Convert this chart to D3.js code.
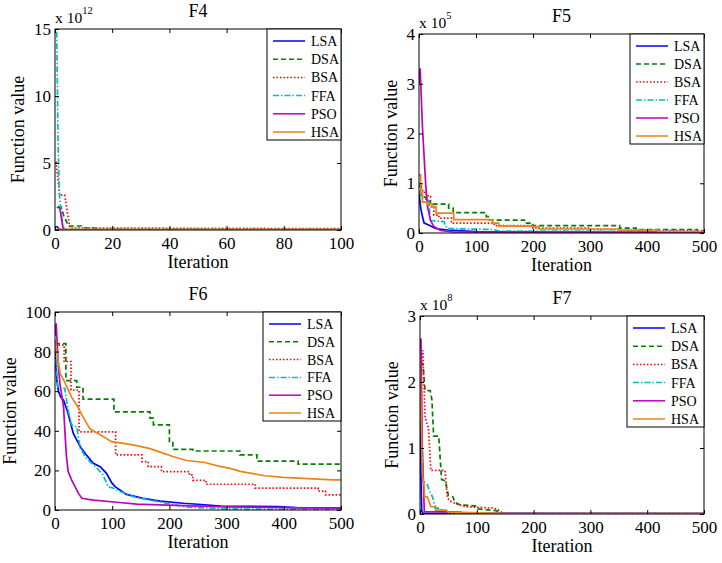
<!DOCTYPE html>
<html><head><meta charset="utf-8">
<script src="https://cdn.jsdelivr.net/npm/d3@7"></script>
<style>
body{margin:0;background:#fff}
svg{display:block}
</style>
</head><body>
<svg id="chart" width="722" height="563"></svg>
<script>
// ---------------- data ----------------
const seriesNames = ["LSA","DSA","BSA","FFA","PSO","HSA"];

// F4 (values in units of 10^12)
const F4_title = "F4", F4_exponent = 12;
const F4_xTicks = [0,20,40,60,80,100];
const F4_yTicks = [0,5,10,15];
const F4_LSA = [[0.5,0.3],[1.5,0.05],[3,0.02],[100,0.02]];
const F4_DSA = [[1,1.74],[2.2,1.7],[3,1.1],[4.7,0.3],[9.3,0.3],[9.8,0.15],[14,0.15],[14.5,0.05],[100,0.05]];
const F4_BSA = [[0.4,5.1],[1.6,2.6],[3.4,2.6],[5.2,0.15],[100,0.1]];
const F4_FFA = [[0.6,14.8],[1.1,6],[1.6,2.5],[2.6,0.3],[3.5,0.05],[100,0.03]];
const F4_PSO = [[0.6,1.7],[1.7,1.65],[2.9,0.02],[100,0.02]];
const F4_HSA = [[0,0.05],[100,0.04]];

// F5 (values in units of 10^5)
const F5_title = "F5", F5_exponent = 5;
const F5_xTicks = [0,100,200,300,400,500];
const F5_yTicks = [0,1,2,3,4];
const F5_LSA = [[0,0.8],[3,0.5],[6,0.33],[9,0.2],[17,0.16],[29,0.09],[50,0.06],[100,0.03],[200,0.02],[500,0.015]];
const F5_DSA = [[0,0.95],[4,0.72],[12,0.63],[20,0.58],[52,0.5],[60,0.41],[118,0.33],[124,0.26],[185,0.2],[200,0.15],[352,0.1],[381,0.07],[488,0.04],[500,0.04]];
const F5_BSA = [[0,0.93],[4,0.85],[10,0.78],[16,0.73],[20,0.53],[26,0.36],[35,0.3],[57,0.2],[132,0.15],[200,0.1],[300,0.07],[350,0.05],[500,0.05]];
const F5_FFA = [[0,0.85],[5,0.7],[12,0.68],[17,0.65],[20,0.25],[44,0.23],[46,0.16],[50,0.09],[130,0.07],[140,0.04],[500,0.03]];
const F5_PSO = [[0,3.0],[2,3.31],[6,2.14],[9,1.53],[12,0.93],[15,0.53],[20,0.26],[26,0.13],[38,0.05],[60,0.02],[500,0.01]];
const F5_HSA = [[0,1.17],[3,0.8],[6,0.62],[15,0.58],[23,0.53],[30,0.4],[58,0.4],[61,0.27],[125,0.26],[129,0.2],[140,0.14],[200,0.13],[210,0.08],[345,0.08],[350,0.06],[415,0.06],[420,0.03],[500,0.03]];

// F6 (raw values)
const F6_title = "F6", F6_exponent = 0;
const F6_xTicks = [0,100,200,300,400,500];
const F6_yTicks = [0,20,40,60,80,100];
const F6_LSA = [[0,81],[3,66],[6,60],[10,57],[15,55.5],[22,49.6],[32,38.7],[44,32],[55,27.8],[67,23.6],[79,21.9],[90,18.5],[99,13.8],[105,11.8],[125,7.9],[154,5.9],[184,4.5],[224,3.4],[250,2.9],[290,2.0],[390,1.7],[420,1.2],[500,1.0]];
const F6_DSA = [[0,84],[19,65.3],[38,62],[49,56],[103,49.6],[166,46.4],[172,43],[200,34],[206,30.6],[241,29.8],[323,27.8],[353,24.7],[425,23.2],[500,23.2]];
const F6_BSA = [[0,83.3],[16,75],[28,60.6],[42,39.5],[106,27.8],[152,24.4],[163,21.9],[186,19.4],[235,17.7],[241,15],[264,13],[350,11],[460,9.5],[473,7.6],[500,7.6]];
const F6_FFA = [[0,82],[3,70],[5,61.5],[17,61.5],[23,50.5],[29,43],[38,42],[44,31.3],[55,26],[73,21.2],[84,17.7],[93,11.8],[102,11],[114,9.3],[137,6.7],[166,5],[189,3.7],[230,1.5],[300,0.6],[400,0.3],[500,0.2]];
const F6_PSO = [[0,88],[2,94.3],[6,72],[9,63],[15,52],[17.5,38.7],[20,27],[23,19.4],[29,15.2],[35,11.8],[41,8.4],[47,5.9],[67,5],[108,3.9],[143,3],[195,2.5],[300,1.6],[400,1.2],[500,1.0]];
const F6_HSA = [[0,86],[9,69],[15,65.7],[29,57],[40,52],[47,48],[61,41],[79,38],[99,34.5],[117,33.8],[143,32.5],[166,31],[189,28.7],[206,27],[230,25],[262,24],[288,22],[306,21],[326,19.4],[367,17.3],[399,16.5],[451,15.7],[486,15.2],[500,15.2]];

// F7 (values in units of 10^8)
const F7_title = "F7", F7_exponent = 8;
const F7_xTicks = [0,100,200,300,400,500];
const F7_yTicks = [0,1,2,3];
const F7_LSA = [[0,1.8],[1,1.2],[2,0.4],[3,0.05],[5,0.01],[500,0.005]];
const F7_DSA = [[1,2.3],[5,2.28],[9,1.87],[18,1.87],[21,1.73],[24,1.18],[33,1.18],[38,0.52],[45,0.5],[47,0.4],[50,0.28],[58,0.26],[61,0.18],[70,0.14],[98,0.12],[100,0.08],[134,0.05],[146,0.005],[500,0.005]];
const F7_BSA = [[1,2.2],[5,2.48],[9,1.47],[12,1.38],[15,1.3],[19,0.66],[44,0.66],[48,0.25],[52,0.2],[65,0.15],[80,0.11],[130,0.09],[140,0.05],[146,0.005],[500,0.005]];
const F7_FFA = [[0,2.0],[3,1.2],[6,0.5],[13,0.44],[16,0.36],[22,0.26],[25,0.16],[28,0.09],[34,0.09],[40,0.05],[48,0.02],[60,0.005],[500,0.005]];
const F7_PSO = [[0,2.5],[1.7,2.66],[4,1.0],[7.6,0.035],[72,0.03],[74,0.005],[500,0.005]];
const F7_HSA = [[0,2.33],[3.5,0.92],[4.7,0.56],[7.6,0.41],[8,0.26],[13,0.26],[16,0.19],[19,0.11],[25,0.11],[28,0.06],[46,0.06],[51,0.025],[72,0.025],[140,0.01],[146,0.005],[500,0.005]];

// ---------------- styles & layout ----------------
const FONT = "Liberation Serif";
const styles = {
  LSA:{color:"#0000ff", dash:null},
  DSA:{color:"#008000", dash:"5,3"},
  BSA:{color:"#ff0000", dash:"1.5,2"},
  FFA:{color:"#00bfbf", dash:"6,2,1.5,2"},
  PSO:{color:"#bf00bf", dash:null},
  HSA:{color:"#e8841a", dash:null}
};
const stepSeries = {F5:["DSA","BSA","HSA"], F6:["DSA","BSA"], F4:[], F7:[]};

const panels = [
  {title:F4_title, exp:F4_exponent, xTicks:F4_xTicks, yTicks:F4_yTicks, data:[F4_LSA,F4_DSA,F4_BSA,F4_FFA,F4_PSO,F4_HSA]},
  {title:F5_title, exp:F5_exponent, xTicks:F5_xTicks, yTicks:F5_yTicks, data:[F5_LSA,F5_DSA,F5_BSA,F5_FFA,F5_PSO,F5_HSA]},
  {title:F6_title, exp:F6_exponent, xTicks:F6_xTicks, yTicks:F6_yTicks, data:[F6_LSA,F6_DSA,F6_BSA,F6_FFA,F6_PSO,F6_HSA]},
  {title:F7_title, exp:F7_exponent, xTicks:F7_xTicks, yTicks:F7_yTicks, data:[F7_LSA,F7_DSA,F7_BSA,F7_FFA,F7_PSO,F7_HSA]}
];
const layout = [
  {x0:55, x1:341, y0:29, y1:230, leg:{x:267, y:29, w:74, h:111}},
  {x0:419, x1:704, y0:34, y1:233, leg:{x:630, y:34, w:74, h:110}},
  {x0:55, x1:341, y0:312, y1:510, leg:{x:263, y:312, w:78, h:109}},
  {x0:420, x1:704, y0:316, y1:514, leg:{x:627, y:316, w:77, h:111}}
];

const TICK_FS = 17, LABEL_FS = 18, TITLE_FS = 18, LEG_FS = 14;

const svg = d3.select("#chart");
const setFont = (sel, size) => sel.style("font-family", FONT).style("font-size", size+"px")
  .style("font-weight","normal").attr("fill","#000");

panels.forEach((p, pi) => {
  const L = layout[pi];
  const xMax = p.xTicks[p.xTicks.length-1], yMax = p.yTicks[p.yTicks.length-1];
  const x = d3.scaleLinear().domain([0,xMax]).range([L.x0,L.x1]);
  const y = d3.scaleLinear().domain([0,yMax]).range([L.y1,L.y0]);
  const g = svg.append("g");

  const clipId = "clip"+pi;
  g.append("clipPath").attr("id",clipId).append("rect")
    .attr("x",L.x0).attr("y",L.y0-1).attr("width",L.x1-L.x0).attr("height",L.y1-L.y0+1);

  const lines = g.append("g").attr("clip-path","url(#"+clipId+")");
  p.data.forEach((ser, si) => {
    const name = seriesNames[si];
    const st = styles[name];
    const isStep = (stepSeries[p.title]||[]).includes(name);
    const line = d3.line().x(d=>x(d[0])).y(d=>y(d[1])).curve(isStep?d3.curveStepAfter:d3.curveLinear);
    lines.append("path").attr("d",line(ser)).attr("fill","none")
      .attr("stroke",st.color).attr("stroke-width",1.7)
      .attr("stroke-dasharray",st.dash);
  });

  const fmt = d => String(d);
  const ax = (sel)=>{sel.select(".domain").remove(); sel.selectAll("line").attr("stroke","#000");
    sel.attr("font-family",null).attr("font-size",null);
    setFont(sel.selectAll("text"), TICK_FS);};
  const bottom = g.append("g").attr("transform",`translate(0,${L.y1})`)
    .call(d3.axisBottom(x).tickValues(p.xTicks).tickFormat(fmt).tickSizeInner(-4).tickSizeOuter(0).tickPadding(7));
  const top = g.append("g").attr("transform",`translate(0,${L.y0})`)
    .call(d3.axisTop(x).tickValues(p.xTicks).tickSizeInner(-4).tickSizeOuter(0).tickFormat(""));
  const left = g.append("g").attr("transform",`translate(${L.x0},0)`)
    .call(d3.axisLeft(y).tickValues(p.yTicks).tickFormat(fmt).tickSizeInner(-4).tickSizeOuter(0).tickPadding(4));
  const right = g.append("g").attr("transform",`translate(${L.x1},0)`)
    .call(d3.axisRight(y).tickValues(p.yTicks).tickSizeInner(-4).tickSizeOuter(0).tickFormat(""));
  [bottom,top,left,right].forEach(ax);

  g.append("rect").attr("x",L.x0).attr("y",L.y0).attr("width",L.x1-L.x0).attr("height",L.y1-L.y0)
    .attr("fill","none").attr("stroke","#000").attr("stroke-width",1);

  // labels
  let maxw = 0;
  left.selectAll("text").each(function(){maxw = Math.max(maxw, this.getComputedTextLength());});
  const ylx = L.x0 - 4 - maxw - 10, yly = (L.y0+L.y1)/2;
  setFont(g.append("text").attr("transform",`translate(${ylx},${yly}) rotate(-90)`)
    .attr("text-anchor","middle"), LABEL_FS).text("Function value");
  setFont(g.append("text").attr("x",(L.x0+L.x1)/2).attr("y",L.y1+38)
    .attr("text-anchor","middle"), LABEL_FS).text("Iteration");
  setFont(g.append("text").attr("x",(L.x0+L.x1)/2).attr("y",L.y0-12)
    .attr("text-anchor","middle"), TITLE_FS).text(p.title);

  if (p.exp) {
    const t = setFont(g.append("text").attr("x",L.x0).attr("y",L.y0-6), 15.5);
    t.append("tspan").text("x 10");
    t.append("tspan").style("font-size","10.5px").attr("dy",-9).text(String(p.exp));
  }

  // legend
  const lg = g.append("g");
  lg.append("rect").attr("x",L.leg.x).attr("y",L.leg.y).attr("width",L.leg.w).attr("height",L.leg.h)
    .attr("fill","#fff").attr("stroke","#000").attr("stroke-width",1);
  const step = (L.leg.h - 20) / 5;
  seriesNames.forEach((name, i) => {
    const yy = L.leg.y + 12 + i*step;
    const st = styles[name];
    lg.append("line").attr("x1",L.leg.x+6).attr("x2",L.leg.x+38).attr("y1",yy).attr("y2",yy)
      .attr("stroke",st.color).attr("stroke-width",1.5).attr("stroke-dasharray",st.dash);
    setFont(lg.append("text").attr("x",L.leg.x+44).attr("y",yy).attr("dy","0.35em"), LEG_FS).text(name);
  });
});
</script>
</body></html>
